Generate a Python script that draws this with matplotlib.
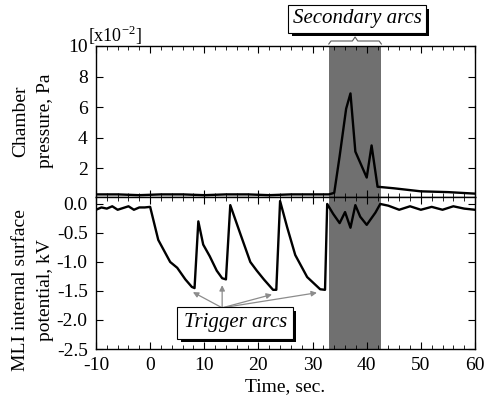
import matplotlib
matplotlib.use("Agg")
import numpy as np
from matplotlib import pyplot as plt
from matplotlib import patheffects as pe
from matplotlib.ticker import MultipleLocator
import matplotlib.transforms as mtransforms

# Chamber pressure [x1e-2 Pa] vs time
p_time = [-10, -6, -2, 2, 6, 10, 14, 18, 22, 26, 30, 33, 34, 35, 36.2, 37, 37.9,
          40, 40.9, 42, 45, 50, 55, 60]
p_val = [0.3, 0.3, 0.25, 0.3, 0.3, 0.25, 0.3, 0.3, 0.25, 0.3, 0.3, 0.3, 0.4, 2.8,
         5.9, 6.9, 3.1, 1.4, 3.5, 0.8, 0.7, 0.5, 0.45, 0.35]

# MLI internal surface potential [kV] vs time
v_time = [-10, -9, -8, -7, -6, -5, -4, -3, -2, -1, 0,
          1.5, 3.7, 5, 6.5, 7.7, 8.2, 8.9, 9.8, 11, 12.3, 13.3, 14, 14.8,
          16.6, 18.5, 19.7, 21, 22.7, 23.3, 24, 25.3, 26.8, 29, 31.4, 32.3, 32.7,
          33.8, 35, 36, 37, 37.9, 38.8, 40, 41.6, 42.5,
          44, 46, 48, 50, 52, 54, 56, 58, 60]
v_val = [-0.1, -0.06, -0.08, -0.04, -0.1, -0.07, -0.04, -0.1, -0.06, -0.06, -0.05,
         -0.62, -1.0, -1.1, -1.3, -1.43, -1.45, -0.3, -0.7, -0.9, -1.15, -1.28, -1.3, -0.02,
         -0.5, -1.0, -1.15, -1.3, -1.48, -1.48, 0.05, -0.4, -0.88, -1.26, -1.47, -1.48, 0.0,
         -0.17, -0.33, -0.14, -0.41, -0.02, -0.22, -0.36, -0.15, 0.0,
         -0.03, -0.1, -0.04, -0.1, -0.05, -0.1, -0.04, -0.08, -0.1]

# trigger arc minima pointed by arrows
trig_x = [7.9, 13.3, 22.5, 30.8]
trig_y = [-1.52, -1.4, -1.56, -1.53]

arc_start, arc_end = 33.0, 42.7

params = {
    "font.family": ["Liberation Serif", "DejaVu Serif"],
    "font.size": 14,
    "xtick.labelsize": 14,
    "ytick.labelsize": 14,
    "xtick.direction": "in",
    "ytick.direction": "in",
    "xtick.top": True,
    "ytick.right": True,
    "axes.linewidth": 1.0,
    "mathtext.fontset": "custom",
    "mathtext.rm": "Liberation Serif",
}
matplotlib.rcParams.update(params)

W, H = 486, 401
fig = plt.figure(figsize=(W / 100, H / 100), dpi=100)
left = 96 / W
width = (475 - 96) / W
ax1 = fig.add_axes([left, 1 - 197 / H, width, (197 - 46) / H])
ax2 = fig.add_axes([left, 1 - 349 / H, width, (349 - 197) / H])

for ax in (ax1, ax2):
    ax.set_xlim(-10, 60)
    ax.xaxis.set_major_locator(MultipleLocator(10))
    ax.xaxis.set_minor_locator(MultipleLocator(2))
    ax.tick_params(which="major", length=5, width=0.8, pad=6)
    ax.tick_params(which="minor", length=3, width=0.6)
    ax.axvspan(arc_start, arc_end, color="#707070", lw=0, zorder=0)

ax1.plot(p_time, p_val, color="k", lw=1.7)
ax1.set_ylim(0.13, 10)
ax1.set_yticks([2, 4, 6, 8, 10])
ax1.yaxis.set_minor_locator(MultipleLocator(1))
ax1.tick_params(which="minor", axis="y", length=0)
ax1.tick_params(labelbottom=False)

ax2.plot(v_time, v_val, color="k", lw=1.7)
ax2.set_ylim(-2.5, 0.12)
ax2.set_yticks([0.0, -0.5, -1.0, -1.5, -2.0, -2.5])
ax2.set_yticklabels(["0.0", "-0.5", "-1.0", "-1.5", "-2.0", "-2.5"])
ax2.set_xticks([-10, 0, 10, 20, 30, 40, 50, 60])
ax2.set_xticklabels(["-10", "0", "10", "20", "30", "40", "50", "60"])
ax2.set_xlabel("Time, sec.", fontsize=14, labelpad=3)

fig.text(21 / W, 1 - 121 / H, "Chamber", rotation=90, ha="center", va="center", fontsize=14)
fig.text(45 / W, 1 - 121 / H, "pressure, Pa", rotation=90, ha="center", va="center", fontsize=14)
fig.text(21 / W, 1 - 290 / H, "MLI internal surface", rotation=90, ha="center", va="center", fontsize=14)
fig.text(45 / W, 1 - 290 / H, "potential, kV", rotation=90, ha="center", va="center", fontsize=14)
fig.text(88 / W, 1 - 35 / H, r"[x10$^{\mathregular{-2}}$]", ha="left", va="center", fontsize=13)

# brace over the secondary arc window
trans = mtransforms.blended_transform_factory(ax1.transData, fig.transFigure)
mid = 0.5 * (arc_start + arc_end)
bx = [arc_start, arc_start + 0.4, mid - 0.5, mid, mid + 0.5, arc_end - 0.4, arc_end]
by = [44, 41, 41, 37, 41, 41, 44]
ax1.plot(bx, [1 - v / H for v in by], transform=trans, color="0.35", lw=0.8, clip_on=False)

shadow = [pe.SimplePatchShadow(offset=(2.5, -2.5), shadow_rgbFace="k", alpha=1.0), pe.Normal()]

t1 = fig.text(357 / W, 1 - 19 / H, "Secondary arcs", ha="center", va="center",
              fontsize=15, style="italic",
              bbox=dict(boxstyle="square,pad=0.2", fc="white", ec="k", lw=0.8))
t1.get_bbox_patch().set_path_effects(shadow)

for tx, ty in zip(trig_x, trig_y):
    ax2.annotate("", xy=(tx, ty), xytext=(13.3, -1.79),
                 arrowprops=dict(arrowstyle="-|>", color="0.55", lw=0.9,
                                 mutation_scale=8, shrinkA=0, shrinkB=0))

t2 = ax2.text(15.7, -2.05, "Trigger arcs", ha="center", va="center",
              fontsize=15, style="italic",
              bbox=dict(boxstyle="square,pad=0.3", fc="white", ec="k", lw=0.8))
t2.get_bbox_patch().set_path_effects(shadow)

plt.savefig("out.png", dpi=100)
